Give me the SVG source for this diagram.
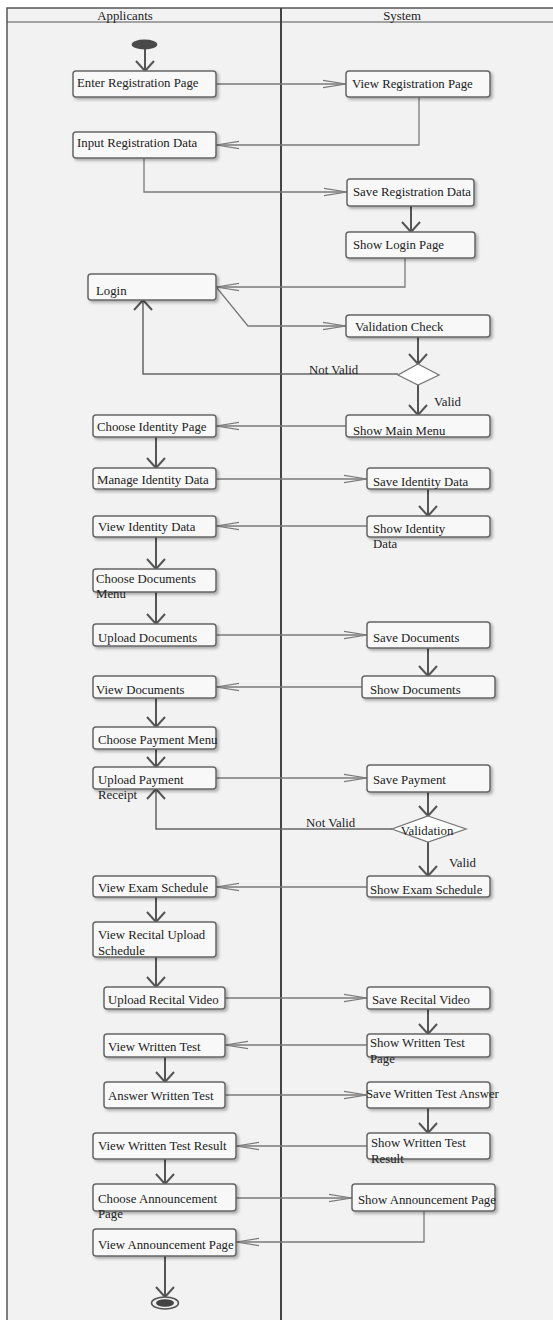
<svg xmlns="http://www.w3.org/2000/svg" width="553" height="1320" viewBox="0 0 553 1320">
<style>
.lbl{font-family:"Liberation Serif","Times New Roman",serif;font-size:12.8px;fill:#222}
.box{fill:#f8f8f8;stroke:#666;stroke-width:1.5;filter:url(#sh)}
.dia{fill:#fff;stroke:#777;stroke-width:1.3}
.v{fill:none;stroke:#555;stroke-width:2;marker-end:url(#mv)}
.h{fill:none;stroke:#7a7a7a;stroke-width:1.3;marker-end:url(#mh)}
.m{fill:none;stroke:#666;stroke-width:1.5;marker-end:url(#mv)}
</style>
<defs>
<filter id="sh" x="-10%" y="-30%" width="130%" height="180%">
<feDropShadow dx="2" dy="2" stdDeviation="1.8" flood-color="#000" flood-opacity="0.3"/>
</filter>
<marker id="mv" markerUnits="userSpaceOnUse" markerWidth="24" markerHeight="24" viewBox="-12 -12 24 24" refX="0" refY="0" orient="auto">
<path d="M-10,-9 L0,0 L-10,9" fill="none" stroke="#555" stroke-width="2"/>
</marker>
<marker id="mh" markerUnits="userSpaceOnUse" markerWidth="30" markerHeight="12" viewBox="-26 -6 30 12" refX="0" refY="0" orient="auto">
<path d="M-23,-3.7 L0,0 L-23,3.7" fill="none" stroke="#7a7a7a" stroke-width="1.2"/>
</marker>
</defs>
<rect x="0" y="0" width="553" height="1320" fill="#fff"/>
<g id="frame">
<rect x="7" y="8" width="560" height="1330" fill="#f2f2f2" stroke="#555" stroke-width="1.5"/>
<line x1="7" y1="22" x2="553" y2="22" stroke="#555" stroke-width="1.2"/>
<line x1="281" y1="8" x2="281" y2="1320" stroke="#444" stroke-width="2"/>
<text class="lbl" x="125" y="20" text-anchor="middle">Applicants</text>
<text class="lbl" x="402" y="20" text-anchor="middle">System</text>
</g>
<g id="connectors">
<path class="v" d="M145,49 V71"/>
<path class="h" d="M216,84 H346"/>
<path class="h" d="M419,97 V145 H216"/>
<path class="h" d="M144,158 V192 H347"/>
<path class="v" d="M411,206 V232"/>
<path class="h" d="M405,258 V287 H216"/>
<path class="h" d="M217,288 L248,326 H346"/>
<path class="v" d="M418,337 V364"/>
<path class="m" d="M398,374 H143 V300"/>
<path class="v" d="M418,385 V415"/>
<path class="h" d="M346,426 H216"/>
<path class="v" d="M156,437 V468"/>
<path class="h" d="M216,479 H367"/>
<path class="v" d="M428,489 V516"/>
<path class="h" d="M367,526 H216"/>
<path class="v" d="M156,537 V569"/>
<path class="v" d="M156,592 V624"/>
<path class="h" d="M216,635 H367"/>
<path class="v" d="M428,648 V676"/>
<path class="h" d="M362,687 H216"/>
<path class="v" d="M156,698 V727"/>
<path class="v" d="M156,749 V767"/>
<path class="h" d="M216,778 H367"/>
<path class="v" d="M428,792 V816"/>
<path class="m" d="M392,829 H156 V789"/>
<path class="v" d="M428,842 V876"/>
<path class="h" d="M367,887 H216"/>
<path class="v" d="M156,897 V922"/>
<path class="v" d="M156,957 V987"/>
<path class="h" d="M225,998 H367"/>
<path class="v" d="M428,1009 V1034"/>
<path class="h" d="M367,1045 H225"/>
<path class="v" d="M165,1057 V1082"/>
<path class="h" d="M225,1095 H367"/>
<path class="v" d="M428,1108 V1133"/>
<path class="h" d="M367,1146 H236"/>
<path class="v" d="M165,1159 V1184"/>
<path class="h" d="M236,1198 H352"/>
<path class="h" d="M424,1211 V1242 H236"/>
<path class="v" d="M165,1256 V1297"/>
<text class="lbl" x="309" y="374">Not Valid</text>
<text class="lbl" x="434" y="406">Valid</text>
<text class="lbl" x="306" y="827">Not Valid</text>
<text class="lbl" x="449" y="867">Valid</text>
</g>
<g id="start"><ellipse cx="144.5" cy="44.5" rx="12.8" ry="5" fill="#4a4a4a"/></g>
<g id="n1"><rect class="box" x="73" y="71" width="143" height="26" rx="3"/><text class="lbl" x="77" y="87">Enter Registration Page</text></g>
<g id="n2"><rect class="box" x="346" y="71" width="144" height="26" rx="3"/><text class="lbl" x="352" y="88">View Registration Page</text></g>
<g id="n3"><rect class="box" x="73" y="132" width="143" height="26" rx="3"/><text class="lbl" x="77" y="147">Input Registration Data</text></g>
<g id="n4"><rect class="box" x="347" y="179" width="127" height="27" rx="3"/><text class="lbl" x="353" y="196">Save Registration Data</text></g>
<g id="n5"><rect class="box" x="346" y="232" width="129" height="26" rx="3"/><text class="lbl" x="353" y="249">Show Login Page</text></g>
<g id="n6"><rect class="box" x="88" y="274" width="128" height="26" rx="3"/><text class="lbl" x="96" y="295">Login</text></g>
<g id="n7"><rect class="box" x="346" y="315" width="144" height="22" rx="3"/><text class="lbl" x="355" y="331">Validation Check</text></g>
<g id="d1"><polygon class="dia" points="418,364 439,375 418,385 398,375"/></g>
<g id="n8"><rect class="box" x="346" y="415" width="144" height="22" rx="3"/><text class="lbl" x="353" y="435">Show Main Menu</text></g>
<g id="n9"><rect class="box" x="93" y="415" width="123" height="22" rx="3"/><text class="lbl" x="97" y="431">Choose Identity Page</text></g>
<g id="n10"><rect class="box" x="93" y="468" width="123" height="21" rx="3"/><text class="lbl" x="97" y="484">Manage Identity Data</text></g>
<g id="n11"><rect class="box" x="367" y="468" width="123" height="21" rx="3"/><text class="lbl" x="373" y="486">Save Identity Data</text></g>
<g id="n12"><rect class="box" x="367" y="516" width="123" height="21" rx="3"/><text class="lbl" x="373" y="533">Show Identity</text><text class="lbl" x="373" y="548">Data</text></g>
<g id="n13"><rect class="box" x="93" y="516" width="123" height="21" rx="3"/><text class="lbl" x="98" y="531">View Identity Data</text></g>
<g id="n14"><rect class="box" x="93" y="569" width="123" height="23" rx="3"/><text class="lbl" x="96" y="583">Choose Documents</text><text class="lbl" x="96" y="598">Menu</text></g>
<g id="n15"><rect class="box" x="93" y="624" width="123" height="22" rx="3"/><text class="lbl" x="98" y="642">Upload Documents</text></g>
<g id="n16"><rect class="box" x="367" y="622" width="123" height="26" rx="3"/><text class="lbl" x="373" y="642">Save Documents</text></g>
<g id="n17"><rect class="box" x="362" y="676" width="133" height="22" rx="3"/><text class="lbl" x="370" y="694">Show Documents</text></g>
<g id="n18"><rect class="box" x="93" y="676" width="123" height="22" rx="3"/><text class="lbl" x="96" y="694">View Documents</text></g>
<g id="n19"><rect class="box" x="93" y="727" width="123" height="22" rx="3"/><text class="lbl" x="98" y="744">Choose Payment Menu</text></g>
<g id="n20"><rect class="box" x="93" y="767" width="123" height="22" rx="3"/><text class="lbl" x="98" y="784">Upload Payment</text><text class="lbl" x="98" y="799">Receipt</text></g>
<g id="n21"><rect class="box" x="367" y="765" width="123" height="27" rx="3"/><text class="lbl" x="373" y="784">Save Payment</text></g>
<g id="d2"><polygon class="dia" points="428,816 466,829 428,842 392,829"/><text class="lbl" x="427" y="835" text-anchor="middle">Validation</text></g>
<g id="n22"><rect class="box" x="367" y="876" width="123" height="21" rx="3"/><text class="lbl" x="370" y="894">Show Exam Schedule</text></g>
<g id="n23"><rect class="box" x="93" y="876" width="123" height="21" rx="3"/><text class="lbl" x="98" y="892">View Exam Schedule</text></g>
<g id="n24"><rect class="box" x="93" y="922" width="123" height="35" rx="3"/><text class="lbl" x="98" y="939">View Recital Upload</text><text class="lbl" x="98" y="955">Schedule</text></g>
<g id="n25"><rect class="box" x="104" y="987" width="121" height="22" rx="3"/><text class="lbl" x="108" y="1004">Upload Recital Video</text></g>
<g id="n26"><rect class="box" x="367" y="987" width="123" height="22" rx="3"/><text class="lbl" x="372" y="1004">Save Recital Video</text></g>
<g id="n27"><rect class="box" x="367" y="1034" width="123" height="23" rx="3"/><text class="lbl" x="370" y="1047">Show Written Test</text><text class="lbl" x="370" y="1063">Page</text></g>
<g id="n28"><rect class="box" x="104" y="1034" width="121" height="23" rx="3"/><text class="lbl" x="108" y="1051">View Written Test</text></g>
<g id="n29"><rect class="box" x="104" y="1082" width="121" height="26" rx="3"/><text class="lbl" x="108" y="1100">Answer Written Test</text></g>
<g id="n30"><rect class="box" x="367" y="1082" width="123" height="26" rx="3"/><text class="lbl" x="366" y="1098">Save Written Test Answer</text></g>
<g id="n31"><rect class="box" x="367" y="1133" width="123" height="26" rx="3"/><text class="lbl" x="371" y="1147">Show Written Test</text><text class="lbl" x="371" y="1163">Result</text></g>
<g id="n32"><rect class="box" x="93" y="1133" width="143" height="26" rx="3"/><text class="lbl" x="98" y="1150">View Written Test Result</text></g>
<g id="n33"><rect class="box" x="93" y="1184" width="143" height="27" rx="3"/><text class="lbl" x="98" y="1203">Choose Announcement</text><text class="lbl" x="98" y="1218">Page</text></g>
<g id="n34"><rect class="box" x="352" y="1184" width="143" height="27" rx="3"/><text class="lbl" x="358" y="1204">Show Announcement Page</text></g>
<g id="n35"><rect class="box" x="93" y="1229" width="143" height="27" rx="3"/><text class="lbl" x="98" y="1249">View Announcement Page</text></g>
<g id="end"><ellipse cx="165" cy="1303" rx="13.5" ry="6" fill="#eee" stroke="#555" stroke-width="1.5"/><ellipse cx="165" cy="1303" rx="9" ry="3.8" fill="#444"/></g>
</svg>
